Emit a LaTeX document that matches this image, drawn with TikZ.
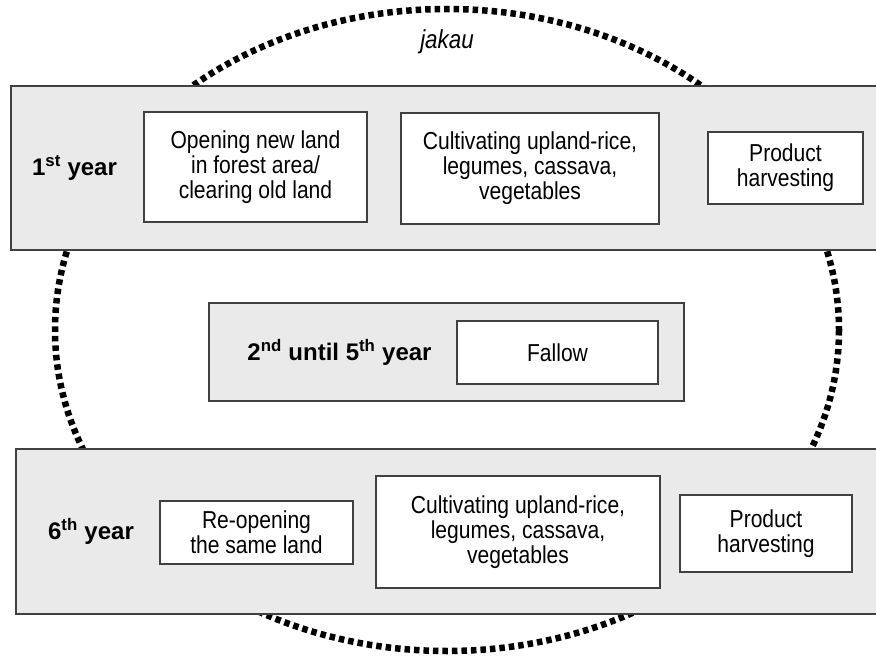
\documentclass[tikz,border=0pt]{standalone}
\usepackage{fontspec}
\setmainfont{Liberation Sans}
\newfontfamily\narrowsans{Liberation Sans}[FakeStretch=0.86]
\usepackage{tikz}
\usetikzlibrary{positioning}
\usepackage{xcolor}
\definecolor{panelgray}{RGB}{234,234,234}
\definecolor{edgegray}{RGB}{64,64,64}

\begin{document}
\begin{tikzpicture}[x=1pt, y=-1pt,
        yearpanel/.style={draw=edgegray, line width=1.4pt, fill=panelgray, inner sep=0pt},
        yearlabel/.style={font=\fontsize{24}{28}\selectfont\bfseries, inner sep=0pt},
        activity/.style={draw=edgegray, line width=1.4pt, fill=white, align=center, inner sep=0pt, font=\narrowsans\fontsize{24.5}{25}\selectfont},
        jakauline/.style={line width=6.5pt, dash pattern=on 5.5pt off 4pt}
    ]
    \useasboundingbox (0,0) rectangle (876,658);
    % Siklus jakau
    \draw[jakauline] (447,330) ellipse [x radius=392, y radius=321];
    \node[font=\narrowsans\fontsize{26}{28}\selectfont\itshape, inner sep=0pt] (jk) at (447,42) {jakau};
    % Tahun pertama
    \node[yearpanel, minimum width=869, minimum height=164] (p1) at (445.5,168) {};
    \node[yearlabel] (y1) at (74.5,168) {1\textsuperscript{st} year};
    \node[activity, minimum width=223, minimum height=110] (a1) at (255.5,167) {Opening new land\\in forest area/\\clearing old land};
    \node[activity, minimum width=258, minimum height=111] (a2) at (530,168.5) {Cultivating upland-rice,\\legumes, cassava,\\vegetables};
    \node[activity, minimum width=155, minimum height=72] (a3) at (785.5,168) {Product\\harvesting};
    % Tahun kedua sampai kelima
    \node[yearpanel, minimum width=475, minimum height=98] (p2) at (446.5,352) {};
    \node[yearlabel] (y2) at (339.5,352) {2\textsuperscript{nd} until 5\textsuperscript{th} year};
    \node[activity, minimum width=201, minimum height=63] (f1) at (557.5,352.5) {Fallow};
    % Tahun keenam
    \node[yearpanel, minimum width=864, minimum height=165] (p3) at (448,531.5) {};
    \node[yearlabel] (y6) at (91,531) {6\textsuperscript{th} year};
    \node[activity, minimum width=193, minimum height=63] (b1) at (256.5,532.5) {Re-opening\\the same land};
    \node[activity, minimum width=284, minimum height=112] (b2) at (518,532) {Cultivating upland-rice,\\legumes, cassava,\\vegetables};
    \node[activity, minimum width=172, minimum height=77] (b3) at (766,533.5) {Product\\harvesting};
\end{tikzpicture}
\end{document}
